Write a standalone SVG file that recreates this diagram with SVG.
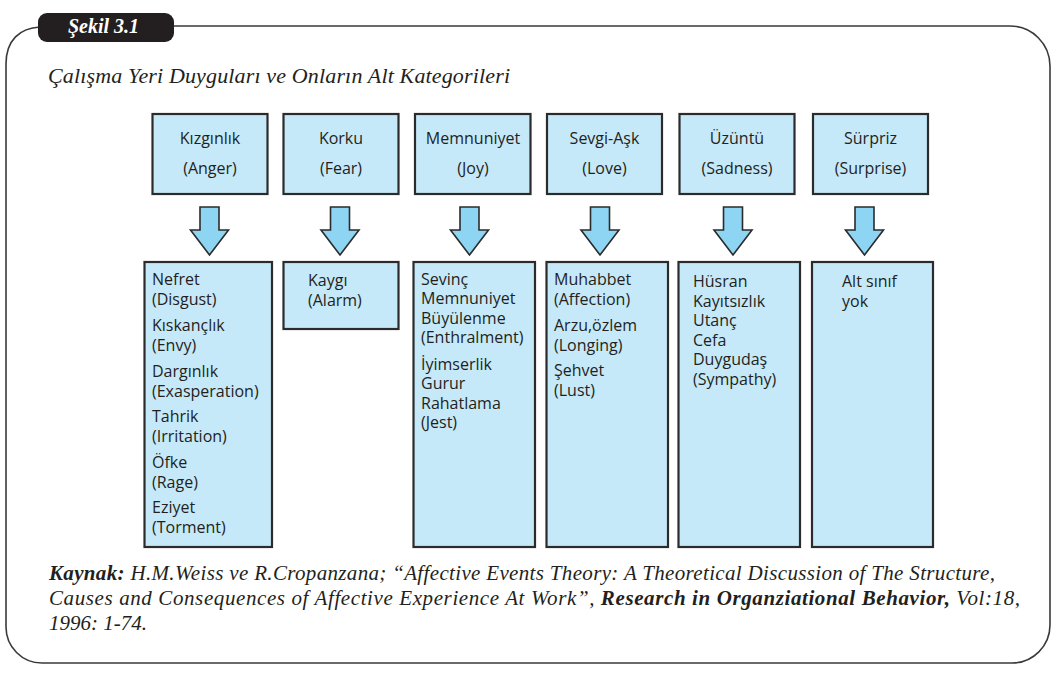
<svg xmlns="http://www.w3.org/2000/svg" width="1057" height="673" viewBox="0 0 1057 673">
<style>
.box{fill:#c6e9f9;stroke:#2b2b2b;stroke-width:2.2}
.t{font-family:"Open Sans","Liberation Sans",sans-serif;font-size:16px;fill:#231f20}
.c{text-anchor:middle}
.arr{fill:#8dd5f3;stroke:#2b2b2b;stroke-width:1.6;stroke-linejoin:miter}
.serif{font-family:"Liberation Serif","DejaVu Serif",serif;font-style:italic;fill:#231f20}
</style>
<defs>
<path id="ar" class="arr" d="M-9.5,207 L9.5,207 L9.5,230 L19,230 L0,255 L-19,230 L-9.5,230 Z"/>
</defs>
<rect width="1057" height="673" fill="#ffffff"/>
<g id="frame">
<path d="M40,27 C20,28 6,40 6,64 L6,627 A36,36 0 0 0 42,663 L1012,663 A38,38 0 0 0 1050,625 L1050,66 A40,40 0 0 0 1010,26 L170,26" fill="none" stroke="#3a3a3a" stroke-width="1.6"/>
<rect x="38" y="13" width="136" height="29" rx="9" fill="#231f20"/>
<text x="68" y="33" font-family="Liberation Serif, serif" font-style="italic" font-weight="bold" font-size="20" fill="#ffffff">Şekil 3.1</text>
</g>
<text id="title" class="serif" x="48" y="83" font-size="22" textLength="462" lengthAdjust="spacing">Çalışma Yeri Duyguları ve Onların Alt Kategorileri</text>
<g id="connectors">
<use href="#ar" x="209.5"/>
<use href="#ar" x="340"/>
<use href="#ar" x="469.5"/>
<use href="#ar" x="600"/>
<use href="#ar" x="733"/>
<use href="#ar" x="864.5"/>
</g>
<g id="anger">
<rect class="box" x="152.5" y="114" width="115" height="80"/>
<text class="t c" x="210" y="144">Kızgınlık</text>
<text class="t c" x="210" y="174">(Anger)</text>
</g>
<g id="fear">
<rect class="box" x="283.5" y="114" width="115" height="80"/>
<text class="t c" x="341" y="144">Korku</text>
<text class="t c" x="341" y="174">(Fear)</text>
</g>
<g id="joy">
<rect class="box" x="415" y="114" width="115.5" height="80"/>
<text class="t c" x="473" y="144">Memnuniyet</text>
<text class="t c" x="473" y="174">(Joy)</text>
</g>
<g id="love">
<rect class="box" x="547" y="114" width="115" height="80"/>
<text class="t c" x="604.5" y="144">Sevgi-Aşk</text>
<text class="t c" x="604.5" y="174">(Love)</text>
</g>
<g id="sadness">
<rect class="box" x="679.5" y="114" width="115" height="80"/>
<text class="t c" x="737" y="144">Üzüntü</text>
<text class="t c" x="737" y="174">(Sadness)</text>
</g>
<g id="surprise">
<rect class="box" x="813" y="114" width="115" height="80"/>
<text class="t c" x="870.5" y="144">Sürpriz</text>
<text class="t c" x="870.5" y="174">(Surprise)</text>
</g>
<g id="anger-sub">
<rect class="box" x="144.5" y="262" width="127.5" height="285"/>
<text class="t" x="152" y="284.5">Nefret</text>
<text class="t" x="152" y="304.5">(Disgust)</text>
<text class="t" x="152" y="330.5">Kıskançlık</text>
<text class="t" x="152" y="350.5">(Envy)</text>
<text class="t" x="152" y="376.5">Dargınlık</text>
<text class="t" x="152" y="396.5">(Exasperation)</text>
<text class="t" x="152" y="422">Tahrik</text>
<text class="t" x="152" y="442">(Irritation)</text>
<text class="t" x="152" y="467.5">Öfke</text>
<text class="t" x="152" y="487.5">(Rage)</text>
<text class="t" x="152" y="513">Eziyet</text>
<text class="t" x="152" y="533">(Torment)</text>
</g>
<g id="fear-sub">
<rect class="box" x="283.5" y="262" width="115" height="67"/>
<text class="t" x="308" y="286">Kaygı</text>
<text class="t" x="308" y="305.5">(Alarm)</text>
</g>
<g id="joy-sub">
<rect class="box" x="413.5" y="262" width="121.5" height="285"/>
<text class="t" x="421" y="284.5">Sevinç</text>
<text class="t" x="421" y="304">Memnuniyet</text>
<text class="t" x="421" y="323.5">Büyülenme</text>
<text class="t" x="421" y="343">(Enthralment)</text>
<text class="t" x="421" y="369.5">İyimserlik</text>
<text class="t" x="421" y="389">Gurur</text>
<text class="t" x="421" y="408.5">Rahatlama</text>
<text class="t" x="421" y="428">(Jest)</text>
</g>
<g id="love-sub">
<rect class="box" x="546.5" y="262" width="121.5" height="285"/>
<text class="t" x="554" y="284.5">Muhabbet</text>
<text class="t" x="554" y="305">(Affection)</text>
<text class="t" x="554" y="331">Arzu,özlem</text>
<text class="t" x="554" y="350.5">(Longing)</text>
<text class="t" x="554" y="376">Şehvet</text>
<text class="t" x="554" y="395.5">(Lust)</text>
</g>
<g id="sadness-sub">
<rect class="box" x="678.5" y="262" width="121.5" height="285"/>
<text class="t" x="693" y="287">Hüsran</text>
<text class="t" x="693" y="306.5">Kayıtsızlık</text>
<text class="t" x="693" y="326">Utanç</text>
<text class="t" x="693" y="345.5">Cefa</text>
<text class="t" x="693" y="365">Duygudaş</text>
<text class="t" x="693" y="384.5">(Sympathy)</text>
</g>
<g id="surprise-sub">
<rect class="box" x="812" y="262" width="121" height="285"/>
<text class="t" x="842" y="287">Alt sınıf</text>
<text class="t" x="842" y="306.5">yok</text>
</g>
<g id="source" class="serif" font-size="21">
<text x="49" y="580" textLength="946" lengthAdjust="spacing"><tspan font-weight="bold">Kaynak:</tspan> H.M.Weiss ve R.Cropanzana; “Affective Events Theory: A Theoretical Discussion of The Structure,</text>
<text x="49" y="605" textLength="971" lengthAdjust="spacing">Causes and Consequences of Affective Experience At Work”, <tspan font-weight="bold">Research in Organziational Behavior,</tspan> Vol:18,</text>
<text x="49" y="630" textLength="98" lengthAdjust="spacing">1996: 1-74.</text>
</g>
</svg>
